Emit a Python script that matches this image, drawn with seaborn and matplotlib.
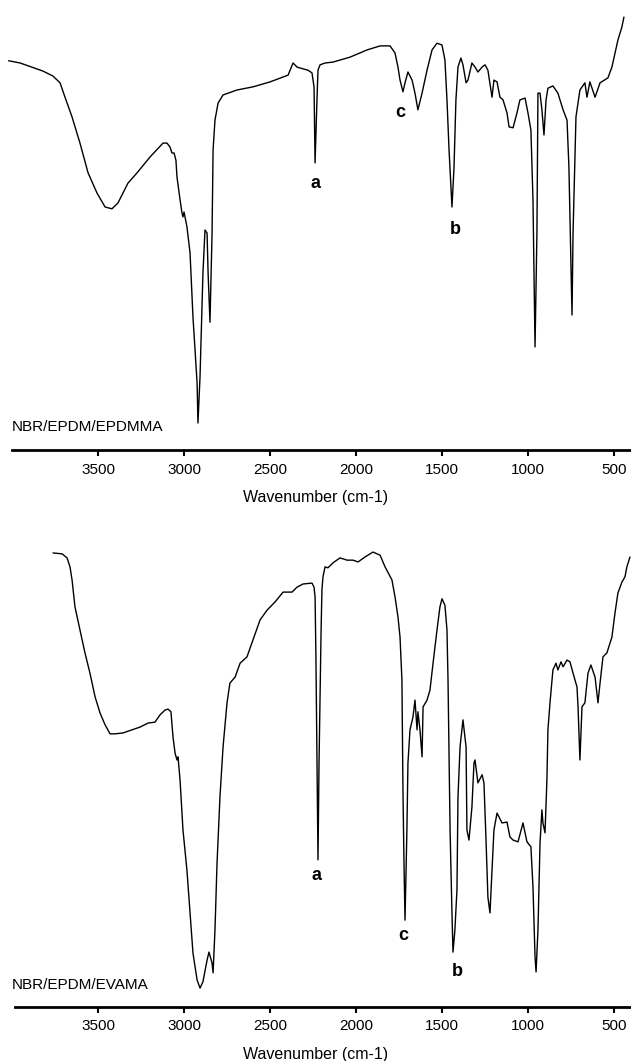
import matplotlib
matplotlib.use("Agg")
import matplotlib.pyplot as plt
import seaborn as sns
import pandas as pd

# ---------------- data (wavenumber cm-1, transmittance a.u.) ----------------
top_wavenumber = [4020, 3953, 3820, 3762, 3721, 3692, 3651, 3605, 3558, 3506,
                  3459, 3419, 3384, 3326, 3273, 3198, 3122, 3099, 3081, 3070,
                  3058, 3047, 3041, 3023, 3012, 3006, 3000, 2983, 2965, 2948,
                  2924, 2919, 2907, 2890, 2878, 2866, 2860, 2849, 2837, 2831,
                  2820, 2802, 2773, 2692, 2599, 2500, 2395, 2366, 2343, 2326,
                  2279, 2256, 2244, 2238, 2227, 2221, 2209, 2180, 2134, 2035,
                  1936, 1860, 1802, 1773, 1756, 1744, 1727, 1715, 1698, 1674,
                  1657, 1640, 1616, 1587, 1558, 1529, 1500, 1483, 1471, 1459,
                  1442, 1430, 1419, 1407, 1390, 1378, 1360, 1349, 1326, 1308,
                  1291, 1267, 1250, 1233, 1209, 1198, 1180, 1163, 1145, 1122,
                  1110, 1087, 1064, 1047, 1017, 1000, 983, 971, 959, 948,
                  942, 930, 919, 907, 895, 884, 855, 826, 796, 773,
                  762, 744, 738, 721, 698, 669, 657, 640, 610, 581,
                  535, 512, 494, 477, 454, 442]
top_transmittance = [86.5, 86.0, 84.2, 83.1, 81.6, 78.4, 74.0, 68.2, 61.6, 57.1,
                     54.0, 53.6, 54.9, 59.3, 61.6, 65.1, 68.2, 68.2, 67.3, 66.0,
                     66.0, 64.4, 60.7, 55.6, 52.7, 51.8, 52.9, 49.6, 43.8, 29.6,
                     14.9, 6.0, 16.2, 39.3, 48.9, 48.2, 39.3, 28.4, 48.2, 66.7,
                     73.3, 77.1, 78.9, 80.0, 80.7, 81.8, 83.3, 86.0, 85.1, 84.9,
                     84.4, 83.8, 80.7, 63.8, 77.8, 84.4, 85.6, 86.0, 86.2, 87.3,
                     88.9, 89.8, 89.8, 88.2, 85.1, 82.2, 79.6, 81.6, 84.0, 82.2,
                     79.3, 75.6, 79.3, 84.4, 88.9, 90.4, 90.0, 86.7, 77.8, 66.7,
                     54.0, 62.9, 77.8, 85.1, 87.1, 85.6, 81.6, 82.2, 86.0, 85.1,
                     84.0, 85.1, 85.6, 84.4, 78.4, 82.2, 81.8, 78.4, 77.8, 74.9,
                     71.8, 71.6, 74.9, 77.8, 78.2, 74.9, 71.1, 55.6, 22.9, 48.2,
                     79.3, 79.3, 75.6, 70.0, 77.8, 80.4, 80.9, 79.3, 75.6, 73.3,
                     62.9, 30.0, 48.2, 74.0, 80.0, 81.6, 78.4, 81.8, 78.4, 81.6,
                     82.7, 85.1, 88.2, 91.1, 94.0, 96.2]

bottom_wavenumber = [3762, 3709, 3680, 3663, 3651, 3634, 3605, 3576, 3547, 3517,
                     3488, 3459, 3430, 3401, 3355, 3302, 3256, 3209, 3169, 3140,
                     3110, 3093, 3076, 3064, 3052, 3041, 3035, 3023, 3006, 2983,
                     2965, 2948, 2924, 2907, 2890, 2866, 2855, 2837, 2831, 2820,
                     2808, 2791, 2773, 2750, 2733, 2703, 2674, 2634, 2599, 2558,
                     2517, 2471, 2424, 2372, 2343, 2308, 2256, 2244, 2238, 2233,
                     2227, 2221, 2215, 2203, 2198, 2192, 2180, 2163, 2134, 2093,
                     2052, 2017, 1988, 1948, 1901, 1860, 1831, 1791, 1773, 1756,
                     1744, 1733, 1727, 1721, 1715, 1704, 1698, 1686, 1669, 1657,
                     1645, 1640, 1628, 1616, 1610, 1587, 1570, 1552, 1529, 1512,
                     1500, 1483, 1471, 1465, 1453, 1442, 1436, 1425, 1413, 1407,
                     1395, 1378, 1360, 1355, 1343, 1326, 1314, 1308, 1291, 1267,
                     1256, 1244, 1233, 1221, 1209, 1198, 1180, 1151, 1122, 1105,
                     1087, 1058, 1029, 1006, 983, 971, 959, 953, 942, 930,
                     919, 913, 901, 890, 884, 872, 855, 837, 826, 808,
                     796, 773, 756, 738, 715, 709, 698, 686, 669, 651,
                     634, 610, 593, 581, 564, 541, 512, 494, 477, 454,
                     436, 425, 407]
bottom_transmittance = [100.9, 100.7, 99.8, 97.8, 94.9, 88.9, 83.8, 78.7, 74.2, 68.9,
                        65.3, 62.7, 60.7, 60.7, 60.9, 61.6, 62.2, 63.1, 63.3, 64.9,
                        66.0, 66.2, 65.6, 60.0, 56.4, 54.9, 55.6, 50.4, 39.3, 30.4,
                        20.9, 12.0, 6.0, 4.2, 5.6, 10.4, 12.2, 9.8, 7.6, 17.1,
                        32.0, 46.7, 57.8, 67.6, 72.0, 73.3, 76.4, 77.8, 81.6, 86.0,
                        88.2, 90.0, 92.2, 92.2, 93.3, 94.0, 94.2, 93.3, 91.1, 77.8,
                        54.2, 32.7, 54.2, 83.8, 92.7, 95.6, 97.8, 97.6, 98.7, 99.8,
                        99.3, 99.3, 98.9, 100.0, 101.1, 100.4, 97.8, 94.9, 91.1, 86.7,
                        82.2, 72.7, 48.2, 32.0, 19.3, 39.3, 54.2, 61.6, 64.4, 68.2,
                        61.6, 65.6, 61.6, 55.6, 66.7, 68.2, 70.4, 76.4, 83.8, 88.9,
                        90.7, 89.3, 83.8, 72.7, 39.3, 20.9, 12.2, 17.1, 26.0, 46.7,
                        57.8, 63.8, 57.8, 39.3, 37.1, 44.4, 54.2, 54.9, 49.8, 51.6,
                        49.8, 37.1, 24.4, 20.9, 30.4, 39.3, 43.1, 40.9, 41.1, 37.8,
                        37.1, 36.7, 40.9, 36.7, 35.6, 26.7, 11.1, 7.8, 17.1, 36.4,
                        43.8, 40.9, 38.7, 50.4, 61.6, 67.6, 74.9, 76.4, 74.9, 76.7,
                        75.6, 77.1, 76.7, 74.2, 71.1, 66.7, 54.9, 66.7, 67.6, 74.2,
                        76.0, 73.3, 67.6, 72.0, 77.8, 78.7, 82.2, 87.6, 92.0, 94.4,
                        95.6, 97.8, 100.0]

tick_values = [3500, 3000, 2500, 2000, 1500, 1000, 500]
tick_labels = ["3500", "3000", "2500", "2000", "1500", "1000", "500"]
x_label = "Wavenumber (cm-1)"

top_name = "NBR/EPDM/EPDMMA"
bottom_name = "NBR/EPDM/EVAMA"
top_peak_text = ["a", "c", "b"]
top_peak_w = [2238, 1744, 1425]
top_peak_t = [59.3, 74.9, 48.9]
bottom_peak_text = ["a", "c", "b"]
bottom_peak_w = [2227, 1727, 1413]
bottom_peak_t = [29.3, 16.0, 7.8]

# ---------------- drawing ----------------
sns.set_style("white")
plt.rcParams["font.family"] = ["Liberation Sans", "DejaVu Sans"]
plt.rcParams["text.color"] = "black"
plt.rcParams["axes.labelcolor"] = "black"
plt.rcParams["xtick.color"] = "black"
plt.rcParams["xtick.labelcolor"] = "black"

W, H = 631, 1061
fig = plt.figure(figsize=(W / 100, H / 100), dpi=100)
fig.patch.set_facecolor("white")

ax_top = fig.add_axes([0, (H - 450) / H, 1, 450 / H])
ax_bot = fig.add_axes([0, (H - 1007) / H, 1, 477 / H])

panels = [
    (ax_top, top_wavenumber, top_transmittance, 100, top_name, 5.1,
     top_peak_text, top_peak_w, top_peak_t, 4000),
    (ax_bot, bottom_wavenumber, bottom_transmittance, 106, bottom_name, 4.8,
     bottom_peak_text, bottom_peak_w, bottom_peak_t, 3985),
]

for ax, wn, tr, ytop, name, name_t, ptxt, pw, pt, spine_start in panels:
    df = pd.DataFrame({"w": wn, "t": tr})
    sns.lineplot(data=df, x="w", y="t", ax=ax, color="black", linewidth=1.0,
                 sort=False, estimator=None)
    ax.set_xlim(4070, 401)
    ax.set_ylim(0, ytop)
    ax.set_facecolor("none")
    for s in ["top", "left", "right"]:
        ax.spines[s].set_visible(False)
    ax.spines["bottom"].set_linewidth(2.0)
    ax.spines["bottom"].set_color("black")
    ax.spines["bottom"].set_bounds(spine_start, 401)
    ax.set_yticks([])
    ax.set_ylabel("")
    ax.set_xticks(tick_values)
    ax.set_xticklabels(tick_labels)
    ax.tick_params(axis="x", direction="out", length=4, width=1.5,
                   labelsize=11, pad=5, color="black", labelcolor="black",
                   bottom=True)
    ax.set_xlabel(x_label, fontsize=11.5, labelpad=10, color="black")
    ax.text(4000, name_t, name, fontsize=11, ha="left", va="center",
            color="black")
    for s, x, y in zip(ptxt, pw, pt):
        ax.text(x, y, s, fontsize=13, fontweight="bold", ha="center",
                va="center", color="black")

fig.savefig("out.png", dpi=100, facecolor="white")
